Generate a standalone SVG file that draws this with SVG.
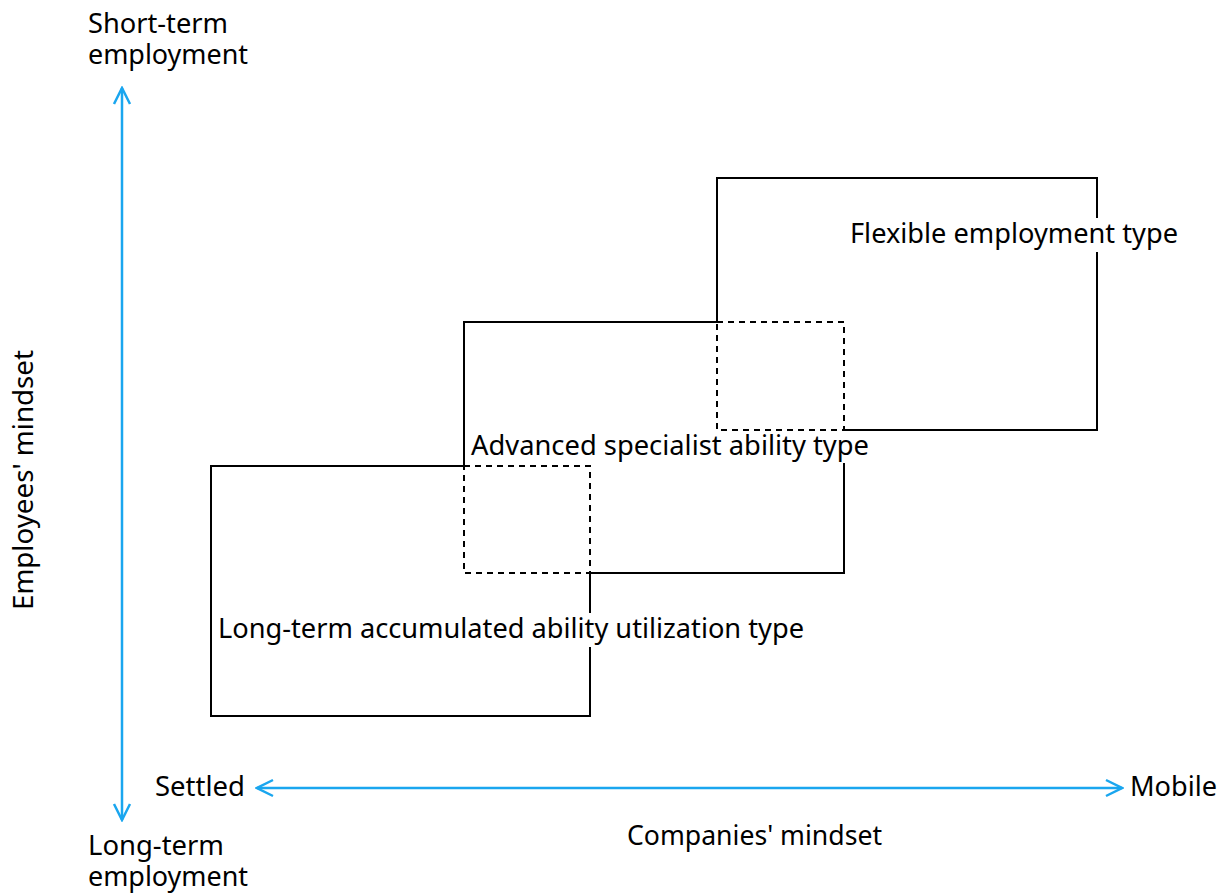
<svg xmlns="http://www.w3.org/2000/svg" width="1228" height="896" viewBox="0 0 1228 896">
<defs>
<style>
.t{font-family:"Noto Sans","Open Sans",sans-serif;font-size:27px;fill:#000}
.s{fill:none;stroke:#000;stroke-width:2}
.d{fill:none;stroke:#000;stroke-width:2;stroke-dasharray:6 5}
.ax{fill:none;stroke:#1aa6ef;stroke-width:2.5}
.bg{fill:#fff}
</style>
<marker id="ah" viewBox="0 0 20 20" refX="18" refY="10" markerWidth="20" markerHeight="20" markerUnits="userSpaceOnUse" orient="auto-start-reverse">
<path d="M2,2 L18,10 L2,18" fill="none" stroke="#1aa6ef" stroke-width="2.5"/>
</marker>
</defs>
<rect width="1228" height="896" fill="#fff"/>
<g id="connectors">
<line class="ax" x1="122" y1="88" x2="122" y2="820" marker-start="url(#ah)" marker-end="url(#ah)"/>
<line class="ax" x1="257" y1="788" x2="1122" y2="788" marker-start="url(#ah)" marker-end="url(#ah)"/>
</g>
<g id="box-flexible">
<path class="s" d="M717,322 V178 H1097 V430 H844"/>
</g>
<g id="box-advanced">
<path class="s" d="M464,466 V322 H717"/>
<path class="s" d="M844,430 V573 H590"/>
</g>
<g id="box-longterm">
<path class="s" d="M464,466 H211 V716 H590 V573"/>
</g>
<g id="overlaps">
<rect class="d" x="717" y="322" width="127" height="108"/>
<rect class="d" x="464" y="466" width="126" height="107"/>
</g>
<g id="label-flexible">
<rect class="bg" x="846" y="218" width="336" height="34"/>
<text class="t" x="850" y="243" textLength="328" lengthAdjust="spacingAndGlyphs">Flexible employment type</text>
</g>
<g id="label-advanced">
<rect class="bg" x="468" y="431" width="404" height="32"/>
<text class="t" x="471" y="455" textLength="398" lengthAdjust="spacingAndGlyphs">Advanced specialist ability type</text>
</g>
<g id="label-longterm">
<rect class="bg" x="215" y="613" width="592" height="34"/>
<text class="t" x="218" y="638" textLength="586" lengthAdjust="spacingAndGlyphs">Long-term accumulated ability utilization type</text>
</g>
<g id="axis-labels">
<text class="t"><tspan x="88" y="33" textLength="140" lengthAdjust="spacingAndGlyphs">Short-term</tspan><tspan x="88" y="64" textLength="160" lengthAdjust="spacingAndGlyphs">employment</tspan></text>
<text class="t"><tspan x="88" y="855" textLength="136" lengthAdjust="spacingAndGlyphs">Long-term</tspan><tspan x="88" y="886" textLength="160" lengthAdjust="spacingAndGlyphs">employment</tspan></text>
<text class="t" x="155" y="796" textLength="90" lengthAdjust="spacingAndGlyphs">Settled</text>
<text class="t" x="1130" y="796" textLength="87" lengthAdjust="spacingAndGlyphs">Mobile</text>
<text class="t" x="627" y="845" textLength="255" lengthAdjust="spacingAndGlyphs">Companies' mindset</text>
<text class="t" transform="translate(33,610) rotate(-90)" textLength="260" lengthAdjust="spacingAndGlyphs">Employees' mindset</text>
</g>
</svg>
